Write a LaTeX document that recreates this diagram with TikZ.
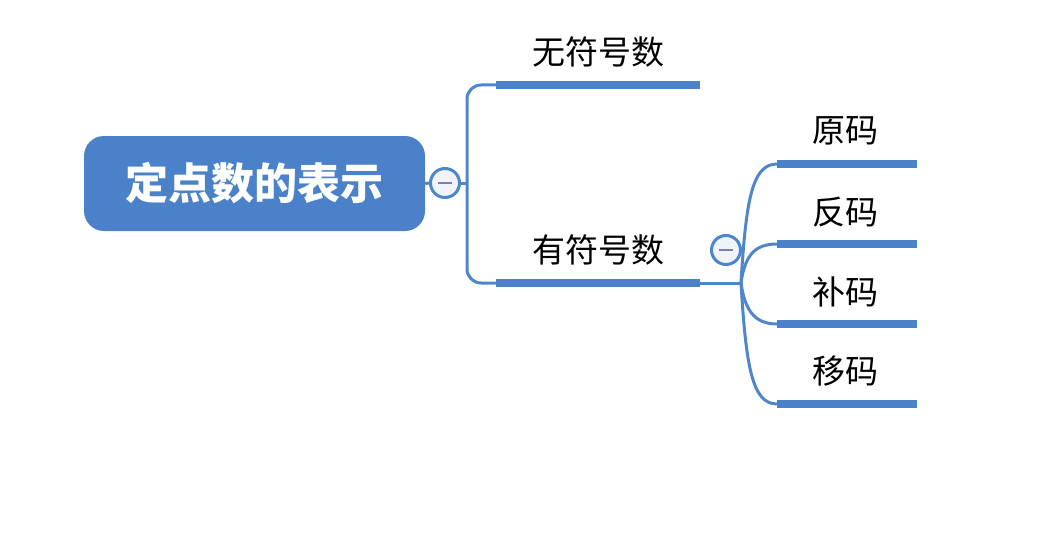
\documentclass[tikz,border=0pt]{standalone}
\usepackage{fontspec}
\setmainfont{Noto Sans CJK SC}
\definecolor{mblue}{RGB}{74,129,200}
\definecolor{lblue}{RGB}{78,134,202}
\definecolor{foldfill}{RGB}{240,244,250}
\definecolor{minusc}{RGB}{125,128,175}
\begin{document}
\begin{tikzpicture}[x=1pt,y=-1pt,
 root/.style={rectangle, rounded corners=20pt, fill=mblue, text=white, font=\fontsize{43}{50}\selectfont\bfseries, minimum width=341pt, minimum height=95pt, inner sep=0},
 lbl/.style={font=\fontsize{33}{38}\selectfont, text=black, inner sep=0},
 bar/.style={line width=8pt, draw=mblue},
 conn/.style={line width=3pt, draw=lblue},
 fold/.style={circle, draw=lblue, line width=3pt, fill=foldfill, minimum size=29pt, inner sep=0},
 minus/.style={line width=2.5pt, draw=minusc}
]
\useasboundingbox[fill=white] (0,0) rectangle (1045,551);

% root
\node[root] (root) at (254.5,183.5) {定点数的表示};
\node[fold] (f1) at (445,183) {};
\draw[conn] (root.east) -- (f1.west);
\draw[minus] ([xshift=-7pt]f1.center) -- ([xshift=7pt]f1.center);

% first level
\coordinate (b1s) at (496,85);
\coordinate (b1e) at (700,85);
\coordinate (b2s) at (496,283);
\coordinate (b2e) at (700,283);
\coordinate (j1) at (467,183);
\node[lbl] (t1) at (598,52) {无符号数};
\node[lbl] (t2) at (598,250) {有符号数};

\draw[conn] (f1.east) -- (j1);
\draw[conn, rounded corners=14pt] (b1s) -- (467,85) -- (467,283) -- (b2s);
\draw[bar] (b1s) -- (b1e);
\draw[bar] (b2s) -- (b2e);

% second level
\coordinate (hub) at (741,283);
\draw[conn] (b2e) -- (hub);
\node[fold] (f2) at (726,250) {};
\draw[minus] ([xshift=-7pt]f2.center) -- ([xshift=7pt]f2.center);

\coordinate (c1s) at (777,164); \coordinate (c1e) at (917,164);
\coordinate (c2s) at (777,244); \coordinate (c2e) at (917,244);
\coordinate (c3s) at (777,324); \coordinate (c3e) at (917,324);
\coordinate (c4s) at (777,404); \coordinate (c4e) at (917,404);

\node[lbl] (u1) at (845,131) {原码};
\node[lbl] (u2) at (845,212) {反码};
\node[lbl] (u3) at (845,292) {补码};
\node[lbl] (u4) at (845,371) {移码};

\draw[conn] (hub) .. controls (746,200) and (752,164) .. (c1s);
\draw[conn] (hub) .. controls (745,255) and (755,244) .. (c2s);
\draw[conn] (hub) .. controls (745,311) and (755,324) .. (c3s);
\draw[conn] (hub) .. controls (746,366) and (752,404) .. (c4s);

\draw[bar] (c1s) -- (c1e);
\draw[bar] (c2s) -- (c2e);
\draw[bar] (c3s) -- (c3e);
\draw[bar] (c4s) -- (c4e);
\end{tikzpicture}
\end{document}
